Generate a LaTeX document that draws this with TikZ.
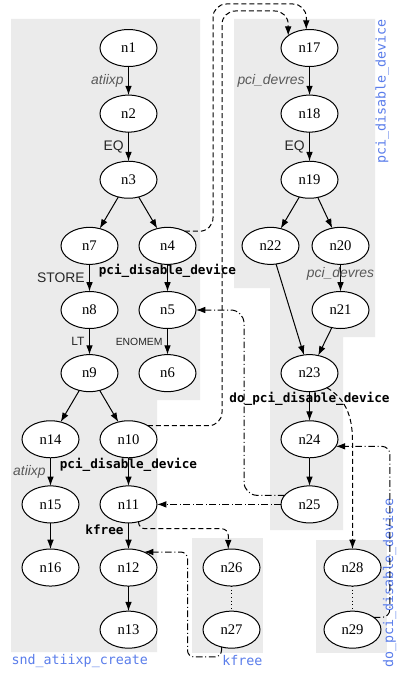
\documentclass[tikz,border=0pt]{standalone}
\usepackage{fontspec}
\setmainfont{Liberation Serif}
\setsansfont{Liberation Sans}
\setmonofont{DejaVu Sans Mono}
\usetikzlibrary{matrix,arrows.meta,shapes.geometric}
\definecolor{clfill}{RGB}{235,235,235}
\definecolor{clblue}{RGB}{90,125,235}

\begin{document}
\begin{tikzpicture}[x=0.75pt, y=-0.75pt, line width=0.75pt, >={Latex[length=7pt,width=5pt]},
    lab/.style={font=\sffamily\fontsize{10.4}{12}\selectfont, text=black!85},
    arg/.style={font=\sffamily\itshape\fontsize{10.4}{12}\selectfont, text=black!65},
    fn/.style={font=\ttfamily\bfseries\fontsize{9.5}{11}\selectfont, pos=0.25},
    cl/.style={font=\ttfamily\fontsize{10}{12}\selectfont, text=clblue, inner sep=0},
    call/.style={->, dash pattern=on 3.75pt off 2.25pt, rounded corners=10pt},
    ret/.style={->, dash pattern=on 5pt off 2pt on 0.75pt off 2pt, rounded corners=10pt}]
  \useasboundingbox[fill=white] (0,0) rectangle (396,677);
  % clusters
  \fill[clfill] (11,19) -- (200,19) -- (200,400) -- (157,400) -- (157,652) -- (11,652) -- cycle;
  \fill[clfill] (234,19) -- (375,19) -- (375,337) -- (343,337) -- (343,530) -- (270,530) -- (270,288) -- (234,288) -- cycle;
  \fill[clfill] (192,538) rectangle (263,653);
  \fill[clfill] (316,540) rectangle (387,653);
  \node[cl, anchor=west] (tsnd) at (11,661) {snd\_atiixp\_create};
  \node[cl, anchor=east] (tkfree) at (263,661) {kfree};
  \node[cl, rotate=90, anchor=east] (tpci) at (382,19) {pci\_disable\_device};
  \node[cl, rotate=90, anchor=west] (tdopci) at (389.5,668) {do\_pci\_disable\_device};

  \matrix (G) [matrix of nodes, anchor=north west, inner sep=0pt, outer sep=0pt,
      nodes={ellipse, draw, fill=white, minimum width=42.75pt, minimum height=27.75pt,
        inner sep=0pt, outer sep=0pt, anchor=center, font=\fontsize{11}{13}\selectfont},
      row sep=19.6pt, column sep=-14.25pt,
      shr/.style={xshift=9pt}
    ] at (21.5,29)
    {
       & & |(n1)| n1 & &[18.75pt] & & |(n17)| n17 &[-6pt] \\[1.1pt]
       & & |(n2)| n2 & & & & |(n18)| n18 &[-6pt] \\[1.5pt]
       & & |(n3)| n3 & & & & |(n19)| n19 &[-6pt] \\[1.5pt]
       & |(n7)| n7 & & |(n4)| n4 & & |(n22)| n22 & &[-6pt] |(n20)| n20 \\
       & |(n8)| n8 & & |(n5)| n5 & & & &[-6pt] |(n21)| n21 \\[-0.75pt]
       & |(n9)| n9 & & |(n6)| n6 & & & |(n23)| n23 &[-6pt] \\[1.5pt]
      |(n14)| n14 & & |(n10)| n10 & & & & |(n24)| n24 &[-6pt] \\[0.75pt]
      |(n15)| n15 & & |(n11)| n11 & & & & |(n25)| n25 &[-6pt] \\[-0.75pt]
      |(n16)| n16 & & |(n12)| n12 & & |(n26)| n26 & & &[-6pt] |[shr](n28)| n28 \\[-1.5pt]
       & & |(n13)| n13 & & |(n27)| n27 & & &[-6pt] |[shr](n29)| n29 \\
    };

  % flow inside the functions
  \draw[->] (n1) edge node[arg, left] (la1) {atiixp} (n2)
            (n2) edge node[lab, left] (la2) {EQ} (n3)
            (n3) edge (n7) (n3) edge (n4)
            (n7) edge node[lab, left] (la3) {STORE} (n8)
            (n4) edge node[fn] (la4) {pci\_disable\_device} (n5)
            (n8) edge node[lab, left, font=\sffamily\fontsize{9}{11}\selectfont] (la5) {LT} (n9)
            (n5) edge node[lab, left, font=\sffamily\fontsize{7.8}{9}\selectfont] (la6) {ENOMEM} (n6)
            (n9) edge (n14) (n9) edge (n10)
            (n14) edge node[arg, left] (la7) {atiixp} (n15)
            (n10) edge node[fn] (la8) {pci\_disable\_device} (n11)
            (n15) edge (n16)
            (n11) edge node[fn, left] (la9) {kfree} (n12)
            (n12) edge (n13);
  \draw[->] (n17) edge node[arg, left] (lb1) {pci\_devres} (n18)
            (n18) edge node[lab, left] (lb2) {EQ} (n19)
            (n19) edge (n22) (n19) edge (n20)
            (n20) edge node[arg, pos=0.35] (lb3) {pci\_devres} (n21)
            (n22) edge (n23) (n21) edge (n23)
            (n23) edge node[fn] (lb4) {do\_pci\_disable\_device} (n24)
            (n24) edge (n25);
  \draw[dotted] (n26) -- (n27) (n28) -- (n29);

  % calls
  \draw[call] (n4.40) -| (213,4) -| (n17.100);
  \draw[call] (n10.35) -| (222,11) -| (n17.150);
  \draw[call] (n23.-40) to[out=-30, in=90] (n28.north |- n24.south) -- (n28.north);
  \draw[call, rounded corners=5pt] (n11.-60) -- ++(0,7) -| (n26.100);

  % returns
  \path (n5.east) ++(48,0) coordinate (a5);
  \path (n24.-15) ++(54,0) coordinate (a24);
  \path (n27.-120) ++(-34,10) coordinate (a27);
  \draw[ret] (n25.160) -| (a5) -- (n5.east);
  \draw[ret] (n25.west) -- (n11.east);
  \draw[ret, rounded corners=6pt] (n29.30) -| (a24) -- (n24.-15);
  \draw[ret, rounded corners=5pt] (n27.-120) |- (a27) |- (n12.45);
\end{tikzpicture}
\end{document}
